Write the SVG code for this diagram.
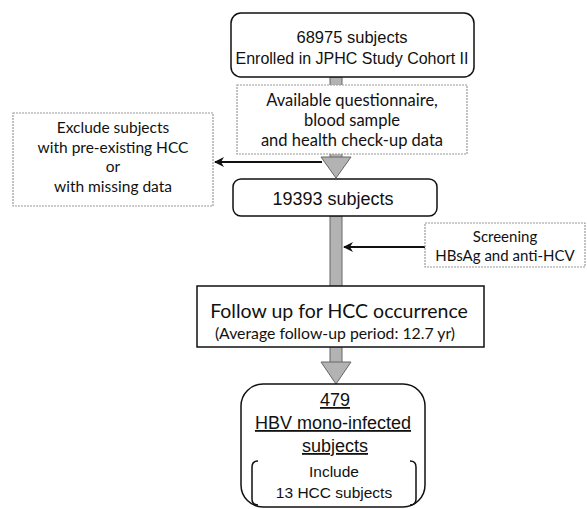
<svg xmlns="http://www.w3.org/2000/svg" width="587" height="509" viewBox="0 0 587 509">
<defs>
<style>
.solid{fill:#fff;stroke:#111;stroke-width:1.5}
.dash{fill:#fff;stroke:#9a9a9a;stroke-width:1.2;stroke-dasharray:2 1}
.arial{font-family:"Liberation Sans",Arial,sans-serif;fill:#111;text-anchor:middle}
.cal{font-family:Lato,"Open Sans",sans-serif;fill:#111;text-anchor:middle}
.flow{fill:#b3b3b3;stroke:#666;stroke-width:1}
.conn{stroke:#111;stroke-width:2;fill:none;marker-end:url(#ah)}
</style>
<marker id="ah" viewBox="0 0 10 10" refX="9" refY="5" markerWidth="5" markerHeight="5" orient="auto" markerUnits="strokeWidth">
<path d="M0,0 L10,5 L0,10 L3,5 z" fill="#111"/>
</marker>
</defs>
<g id="connectors">
<rect class="flow" x="330" y="77" width="12" height="81"/>
<polygon class="flow" points="321,157 351,157 336,178"/>
<rect class="flow" x="330" y="216" width="12" height="147"/>
<polygon class="flow" points="321,362 351,362 336,384"/>
<line class="conn" x1="322" y1="162" x2="215" y2="162"/>
<line class="conn" x1="425" y1="247" x2="344" y2="247"/>
</g>
<g id="enrolled">
<rect class="solid" x="231" y="13" width="243" height="64" rx="10"/>
<text class="arial" x="352" y="43" font-size="16.5">68975 subjects</text>
<text class="arial" x="352" y="64" font-size="16">Enrolled in JPHC Study Cohort II</text>
</g>
<g id="available">
<rect class="dash" x="237" y="85" width="230" height="69"/>
<text class="cal" x="352" y="106" font-size="16.5">Available questionnaire,</text>
<text class="cal" x="352" y="126" font-size="16.5">blood sample</text>
<text class="cal" x="352" y="146" font-size="16.5">and health check-up data</text>
</g>
<g id="exclude">
<rect class="dash" x="13" y="113" width="200" height="93"/>
<text class="cal" x="113" y="133" font-size="15.5">Exclude subjects</text>
<text class="cal" x="113" y="153" font-size="15.5">with pre-existing HCC</text>
<text class="cal" x="113" y="172" font-size="15.5">or</text>
<text class="cal" x="113" y="192" font-size="15.5">with missing data</text>
</g>
<g id="subjects19393">
<rect class="solid" x="233" y="179" width="204" height="37" rx="8"/>
<text class="arial" x="333" y="205" font-size="18">19393 subjects</text>
</g>
<g id="screening">
<rect class="dash" x="425" y="223" width="160" height="44"/>
<text class="cal" x="505" y="242" font-size="15">Screening</text>
<text class="cal" x="505" y="261" font-size="15">HBsAg and anti-HCV</text>
</g>
<g id="followup">
<rect class="solid" x="197" y="286" width="287" height="61"/>
<text class="cal" x="339" y="318" font-size="19.5">Follow up for HCC occurrence</text>
<text class="cal" x="335" y="339" font-size="15.8">(Average follow-up period: 12.7 yr)</text>
</g>
<g id="hbv">
<rect class="solid" x="241" y="384" width="184" height="123" rx="22"/>
<text class="arial" x="335" y="406" font-size="18" text-decoration="underline">479</text>
<text class="arial" x="333" y="429" font-size="18" text-decoration="underline">HBV mono-infected</text>
<text class="arial" x="335" y="452" font-size="18" text-decoration="underline">subjects</text>
<path d="M258,461 Q252,461 252,467 L252,499 Q252,505 258,505" fill="none" stroke="#111" stroke-width="1.5"/>
<path d="M410,461 Q416,461 416,467 L416,499 Q416,505 410,505" fill="none" stroke="#111" stroke-width="1.5"/>
<text class="arial" x="334" y="477" font-size="15.5">Include</text>
<text class="arial" x="334" y="498" font-size="15.5">13 HCC subjects</text>
</g>
</svg>
